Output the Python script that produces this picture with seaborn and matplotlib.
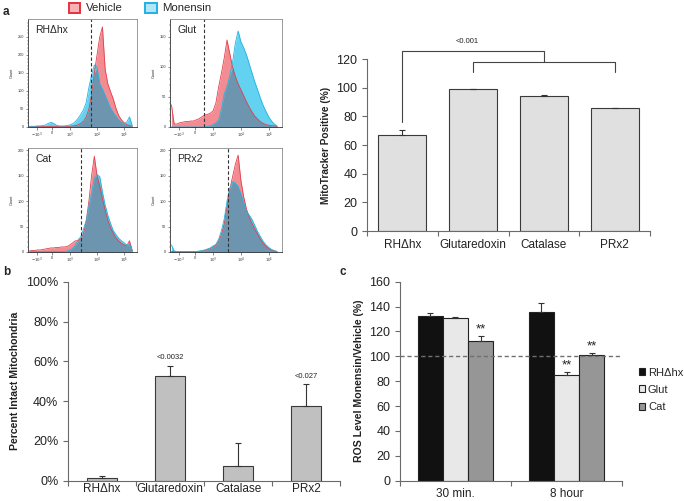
import numpy as np
import pandas as pd
import matplotlib
matplotlib.use("Agg")
import matplotlib.pyplot as plt
from matplotlib.patches import Patch
from matplotlib.lines import Line2D
import seaborn as sns

sns.set_style("white")
plt.rcParams['font.family'] = ['Liberation Sans', 'DejaVu Sans']
plt.rcParams['mathtext.fontset'] = 'dejavusans'

# ---------------- data ----------------
# flow-cytometry histograms (position in decades, counts)
HIST_U = [-1.5, -1.4, -1.3, -1.2, -1.1, -1.0, -0.9, -0.8, -0.7, -0.6,
          -0.5, -0.4, -0.3, -0.2, -0.1, 0.0, 0.1, 0.2, 0.3, 0.4,
          0.5, 0.6, 0.7, 0.8, 0.9, 1.0, 1.1, 1.2, 1.3, 1.4,
          1.5, 1.6, 1.7, 1.8, 1.9, 2.0, 2.1, 2.2, 2.3]
RH_VEH = [1, 1, 1, 1, 1, 1, 1, 1, 2, 1, 1, 1, 1, 1, 2, 2, 3, 4, 6, 10,
          16, 28, 50, 90, 150, 200, 250, 278, 160, 120, 98, 78, 52, 32, 20, 12, 6, 4, 2]
RH_MON = [2, 2, 2, 3, 3, 4, 6, 10, 13, 10, 5, 3, 3, 3, 4, 6, 9, 15, 24, 35,
          48, 68, 110, 145, 172, 165, 120, 105, 88, 70, 52, 40, 30, 20, 13, 9, 14, 28, 4]
GLUT_VEH = [37, 5, 5, 7, 8, 9, 9, 10, 10, 12, 14, 17, 20, 21, 23, 27, 40, 67, 90, 115,
            145, 122, 100, 84, 72, 62, 52, 42, 33, 25, 18, 13, 9, 6, 4, 3, 2, 2, 1]
GLUT_MON = [0, 0, 0, 0, 0, 0, 0, 0, 0, 0, 0, 0, 0, 1, 2, 4, 7, 12, 30, 55,
            68, 85, 108, 140, 160, 142, 132, 120, 105, 90, 75, 62, 48, 36, 26, 17, 10, 5, 2]
CAT_VEH = [2, 3, 3, 4, 4, 5, 6, 7, 8, 8, 9, 9, 10, 10, 11, 14, 18, 22, 22, 26,
           36, 60, 100, 150, 188, 150, 130, 105, 82, 62, 48, 37, 28, 22, 17, 14, 12, 22, 3]
CAT_MON = [1, 1, 1, 1, 1, 1, 1, 1, 1, 1, 1, 1, 1, 1, 2, 4, 7, 13, 24, 30,
           45, 62, 90, 115, 145, 152, 148, 118, 92, 72, 56, 42, 34, 27, 22, 18, 14, 16, 3]
PRX_VEH = [1, 1, 1, 1, 1, 1, 1, 1, 1, 1, 1, 2, 3, 5, 7, 10, 13, 22, 35, 55,
           90, 122, 148, 172, 190, 140, 108, 84, 68, 56, 45, 35, 25, 17, 11, 7, 4, 2, 1]
PRX_MON = [14, 2, 1, 1, 1, 1, 1, 1, 1, 1, 2, 3, 4, 6, 8, 12, 15, 25, 42, 65,
           100, 125, 138, 135, 128, 114, 97, 80, 72, 64, 52, 40, 30, 21, 14, 9, 5, 3, 1]
HIST_NAMES = ["RHΔhx", "Glut", "Cat", "PRx2"]
HIST_GATES = [0.77, -0.34, 0.42, 0.52]
HIST_TICK_POS = [-1.23, -0.65, 0.0, 1.0, 2.0]
HIST_TICK_LABELS = [r"$-10^3$", "0", r"$10^3$", r"$10^4$", r"$10^5$"]

# panel a (bar chart)
A_CATS = ["RHΔhx", "Glutaredoxin", "Catalase", "PRx2"]
A_VALS = [67.0, 99.0, 94.5, 85.5]
A_ERR = [3.2, 0.3, 0.5, 0.3]
A_PTEXT = "<0.001"

# panel b
B_CATS = ["RHΔhx", "Glutaredoxin", "Catalase", "PRx2"]
B_VALS = [1.2, 52.8, 7.4, 37.5]
B_ERR = [1.3, 5.0, 11.3, 11.0]
B_PTEXT = ["", "<0.0032", "", "<0.027"]

# panel c
C_GROUPS = ["30 min.", "8 hour"]
C_SERIES = ["RHΔhx", "Glut", "Cat"]
C_VALS = {"RHΔhx": [132.5, 135.3], "Glut": [131.2, 85.0], "Cat": [112.7, 101.0]}
C_ERR = {"RHΔhx": [2.4, 7.3], "Glut": [0.8, 2.6], "Cat": [3.5, 1.6]}
C_STARS = [("Cat", 0), ("Glut", 1), ("Cat", 1)]

# ---------------- figure ----------------
W, H = 685, 501
fig = plt.figure(figsize=(W / 100, H / 100), dpi=100)


def fig_axes(left, top, right, bottom):
    return fig.add_axes([left / W, 1 - bottom / H, (right - left) / W, (bottom - top) / H])


RED_FILL, CYAN_FILL, OVER_FILL = "#f28c92", "#62d2f0", "#6d95b0"
RED_LINE, CYAN_LINE = "#e2404b", "#27b2de"

hist_specs = [
    (RH_VEH, RH_MON, (28, 19, 137, 127), 300, [0, 50, 100, 150, 200, 250]),
    (GLUT_VEH, GLUT_MON, (170, 19, 282, 127), 180, [0, 50, 100, 150]),
    (CAT_VEH, CAT_MON, (28, 148, 137, 252), 204, [0, 50, 100, 150, 200]),
    (PRX_VEH, PRX_MON, (170, 148, 282, 252), 204, [0, 50, 100, 150, 200]),
]
minor_log = [k + np.log10(m) for k in (0, 1) for m in range(2, 10)] + [2 + np.log10(m) for m in (2, 3)]
minor_lin = list(np.linspace(-1.15, -0.75, 5)) + list(np.linspace(-0.72, -0.58, 8)) + list(np.linspace(-0.5, -0.1, 5))

for (veh, mon, box, ytop, yt), name, gate in zip(hist_specs, HIST_NAMES, HIST_GATES):
    ax = fig_axes(*box)
    u = np.array(HIST_U)
    r = np.array(veh, float)
    c = np.array(mon, float)
    ax.fill_between(u, 0, r, color=RED_FILL, lw=0)
    ax.fill_between(u, 0, c, color=CYAN_FILL, lw=0)
    ax.fill_between(u, 0, np.minimum(r, c), color=OVER_FILL, lw=0)
    sns.lineplot(x=u, y=r, ax=ax, color=RED_LINE, lw=0.6)
    sns.lineplot(x=u, y=c, ax=ax, color=CYAN_LINE, lw=0.6)
    ax.axvline(gate, color="#333333", lw=0.8, ls=(0, (3, 2)))
    ax.set_xlim(-1.55, 2.32)
    ax.set_ylim(0, ytop)
    ax.set_xticks(HIST_TICK_POS)
    ax.set_xticklabels(HIST_TICK_LABELS)
    ax.set_xticks(minor_log + minor_lin, minor=True)
    ax.set_yticks(yt)
    ax.set_yticks(np.arange(0, ytop, 10), minor=True)
    ax.tick_params(axis="both", which="major", labelsize=2.8, length=1.8, width=0.4, pad=1,
                   direction="out", colors="#333333", left=True, bottom=True)
    ax.tick_params(axis="both", which="minor", length=1.0, width=0.3, direction="out",
                   colors="#333333", left=True, bottom=True)
    for s in ax.spines.values():
        s.set_color("#8a8a8a")
        s.set_linewidth(0.6)
    ax.spines["left"].set_color("#333333")
    ax.spines["bottom"].set_color("#333333")
    ax.set_ylabel("Count", fontsize=2.8, labelpad=3)
    ax.text(0.065, 0.945, name, transform=ax.transAxes, ha="left", va="top", fontsize=7.5)

fig.legend(handles=[Patch(facecolor="#f7b2b7", edgecolor="#e5323d", lw=1.4, label="Vehicle"),
                    Patch(facecolor="#b2e5f6", edgecolor="#22b0e3", lw=1.4, label="Monensin")],
           loc="center", bbox_to_anchor=(140 / W, 1 - 8 / H), ncol=2, frameon=False,
           fontsize=8.2, handlelength=1.0, handleheight=1.0, columnspacing=2.0, handletextpad=0.5,
           borderpad=0)


def excel_axes(ax, n, ylim, yticks, ylabel, ylabelsize, fmt=None, xpad=5):
    ax.set_xlim(-0.5, n - 0.5)
    ax.set_ylim(*ylim)
    ax.set_yticks(yticks)
    if fmt:
        ax.set_yticklabels([fmt(v) for v in yticks])
    ax.set_xticks(np.arange(-0.5, n, 1.0), minor=True)
    sns.despine(ax=ax)
    for s in ("left", "bottom"):
        ax.spines[s].set_color("#6a6a6a")
        ax.spines[s].set_linewidth(0.8)
    ax.tick_params(axis="x", which="major", length=0, labelsize=8.5, pad=xpad, colors="#222222")
    ax.tick_params(axis="x", which="minor", length=3.5, width=0.8, direction="out",
                   color="#6a6a6a", bottom=True)
    ax.tick_params(axis="y", which="major", length=3.5, width=0.8, direction="out",
                   color="#6a6a6a", labelsize=9, labelcolor="#222222", left=True)
    ax.set_xlabel("")
    ax.set_ylabel(ylabel, fontsize=ylabelsize, fontweight="bold", color="#222222")


def add_err(ax, bar, err, capsize=2.0):
    x = bar.get_x() + bar.get_width() / 2
    h = bar.get_height()
    ax.errorbar([x], [h], yerr=[[0], [err]], fmt="none", ecolor="#333333",
                elinewidth=0.8, capsize=capsize, capthick=0.8, zorder=3)
    return x, h + err


# ---------------- panel a (bar chart) ----------------
axa = fig_axes(367, 59, 650, 231)
df_a = pd.DataFrame({"cat": A_CATS, "val": A_VALS})
sns.barplot(data=df_a, x="cat", y="val", order=A_CATS, color="#e0e0e0", edgecolor="#3a3a3a",
            linewidth=0.8, width=0.68, errorbar=None, saturation=1, ax=axa)
for bar, e in zip(axa.patches, A_ERR):
    add_err(axa, bar, e)
excel_axes(axa, 4, (0, 120), np.arange(0, 121, 20), "MitoTracker Positive (%)", 7.3, xpad=6)
# significance brackets
bk = dict(color="#444444", lw=0.8, clip_on=False)
top_a = A_VALS[0] + A_ERR[0] + 6
axa.add_line(Line2D([1, 1, 3, 3], [111, 118, 118, 111], **bk))
axa.add_line(Line2D([0, 0, 2, 2], [top_a, 125.6, 125.6, 118], **bk))
axa.text(0.92, 129.5, A_PTEXT, ha="center", va="bottom", fontsize=5.5, color="#222222")

# ---------------- panel b ----------------
axb = fig_axes(68, 281.7, 340, 480.7)
df_b = pd.DataFrame({"cat": B_CATS, "val": B_VALS})
sns.barplot(data=df_b, x="cat", y="val", order=B_CATS, color="#c0c0c0", edgecolor="#3a3a3a",
            linewidth=0.8, width=0.43, errorbar=None, saturation=1, ax=axb)
for bar, e, t in zip(axb.patches, B_ERR, B_PTEXT):
    x, ytop = add_err(axb, bar, e)
    if t:
        axb.text(x, ytop + 2.2, t, ha="center", va="bottom", fontsize=5.5, color="#222222")
excel_axes(axb, 4, (0, 100), np.arange(0, 101, 20), "Percent Intact Mitochondria", 7.6,
           fmt=lambda v: f"{v:d}%", xpad=2)

# ---------------- panel c ----------------
axc = fig_axes(400, 281.7, 622, 480.7)
rows = [(g, s, C_VALS[s][gi]) for s in C_SERIES for gi, g in enumerate(C_GROUPS)]
df_c = pd.DataFrame(rows, columns=["time", "series", "val"])
C_COLORS = {"RHΔhx": "#111111", "Glut": "#e8e8e8", "Cat": "#969696"}
sns.barplot(data=df_c, x="time", y="val", hue="series", order=C_GROUPS, hue_order=C_SERIES,
            palette=C_COLORS, edgecolor="#222222", linewidth=0.8, width=0.68, errorbar=None,
            saturation=1, ax=axc)
tops = {}
for s, cont in zip(C_SERIES, axc.containers):
    for gi, bar in enumerate(cont):
        tops[(s, gi)] = add_err(axc, bar, C_ERR[s][gi])
for key in C_STARS:
    x, yt = tops[key]
    axc.text(x, yt + 0.5, "**", ha="center", va="bottom", fontsize=9.5, color="#222222")
axc.axhline(100, color="#707070", lw=1.0, ls=(0, (3, 2)), zorder=4)
excel_axes(axc, 2, (0, 160), np.arange(0, 161, 20), "ROS Level Monensin/Vehicle (%)", 7.6, xpad=5)
handles, labels = axc.get_legend_handles_labels()
axc.legend(handles, labels, loc="upper left", bbox_to_anchor=(633 / W, 1 - 362 / H),
           bbox_transform=fig.transFigure, frameon=False, fontsize=8.0, handlelength=0.6,
           handleheight=0.6, handletextpad=0.25, labelspacing=0.65, borderpad=0)

# panel letters
fig.text(3 / W, 1 - 12 / H, "a", fontsize=8.5, fontweight="bold", va="center", ha="left")
fig.text(3 / W, 1 - 272 / H, "b", fontsize=8.5, fontweight="bold", va="center", ha="left")
fig.text(340 / W, 1 - 272 / H, "c", fontsize=8.5, fontweight="bold", va="center", ha="left")

fig.savefig("out.png", dpi=100)
